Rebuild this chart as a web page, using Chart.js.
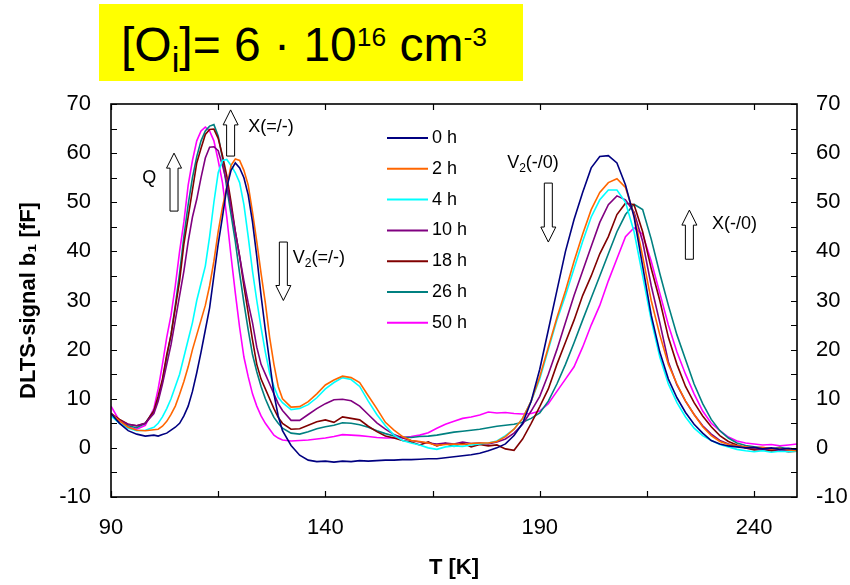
<!DOCTYPE html>
<html>
<head>
<meta charset="utf-8">
<script src="https://cdn.jsdelivr.net/npm/chart.js@4.4.1/dist/chart.umd.min.js"></script>
<style>
  html, body { margin: 0; padding: 0; background: #fff; }
  #wrap { position: relative; width: 850px; height: 585px; }
  #title {
    position: absolute; left: 99px; top: 4px; width: 424px; height: 77px;
    box-sizing: border-box; padding: 7px 0 0 22px;
    background: #ffff00; white-space: nowrap;
    font-family: "Liberation Sans", Arial, sans-serif; font-size: 48px; line-height: 68px;
  }
  #title sub { font-size: 0.72em; position: relative; top: 0.31em; vertical-align: baseline; }
  #title sup { font-size: 0.55em; position: relative; top: -0.55em; vertical-align: baseline; }
</style>
</head>
<body>
<div id="wrap">
  <canvas id="dltsChart" width="850" height="585"></canvas>
  <div id="title">[O<sub>i</sub>]= 6 · 10<sup>16</sup> cm<sup>-3</sup></div>
</div>
<script>
'use strict'

const FONT = "'Liberation Sans', Arial, sans-serif";

// temperature grid [K]
const temps = [90, 92, 94, 96, 98,
  100, 101, 102, 103, 104, 105, 106, 107, 108, 109, 110, 111, 112, 113, 114, 115,
  116, 117, 118, 119, 120, 121, 122, 123, 124, 125, 126, 127, 128, 129, 130,
  132, 134, 136, 138, 140, 142, 144, 146, 148, 150, 152, 154, 156, 158, 160,
  162, 164, 166, 168, 170, 172, 174, 176, 178, 180, 182, 184, 186, 188, 190,
  192, 194, 196, 198, 200, 202, 204, 206, 208, 210, 212, 214, 216, 218, 220,
  222, 224, 226, 228, 230, 232, 234, 236, 238, 240, 242, 244, 246, 248, 250];

// DLTS signal b1 [fF] per annealing time
const h0 = [7, 5, 3.5, 2.8, 2.4,
  2.6, 2.4, 2.7, 3, 3.6, 4.2, 5, 6.5, 8.5, 11.5, 15.3, 19.5, 24, 28.5, 35, 41.5,
  47, 53, 56.5, 58, 57, 55, 51.5, 46, 39, 31, 24, 17.5, 11, 6.5, 3.5,
  0.5, -1.5, -2.5, -2.8, -2.7, -2.9, -2.7, -2.8, -2.6, -2.7, -2.6, -2.5, -2.5, -2.4, -2.4,
  -2.3, -2.2, -2.2, -2.0, -1.8, -1.6, -1.4, -1.1, -0.6, 0, 0.8, 2.5, 5, 9.5, 16,
  24, 32, 40, 46.5, 52, 57, 59.3, 59.5, 58, 53.5, 47, 37, 27, 19.5, 14,
  10.2, 7.2, 4.8, 3, 1.5, 0.8, 0.4, 0.2, 0, 0.1, -0.2, 0, -0.3, -0.1, -0.3];

const h2 = [7, 5.5, 4.2, 3.6, 3.5,
  3.7, 3.8, 4.4, 5.4, 6.8, 8.5, 10.9, 13.5, 16.5, 20, 23, 26, 29, 33, 38, 44,
  49, 53, 57.5, 58.8, 58.5, 56.5, 53.5, 48, 42, 35.5, 29.5, 22.5, 17, 12.5, 10,
  8.3, 8.4, 9.4, 11, 12.8, 13.8, 14.6, 14.3, 13.3, 10.6, 8, 5.2, 3.6, 2.3, 1.5,
  1.3, 1.0, 0.5, 0.7, 0.8, 0.7, 0.9, 1.0, 1.0, 1.3, 2.3, 3.8, 6, 9.5, 14.5,
  20.5, 26.5, 32, 38, 43.5, 48.5, 52, 54, 54.8, 53, 47.5, 39, 30, 23, 17,
  13, 9.5, 6.8, 4.3, 2.5, 1.3, 0.7, 0.4, 0.2, 0, 0.1, -0.2, -0.1, -0.4, -0.6];

const h4 = [6.5, 5, 4, 3.5, 3.6,
  4.2, 5, 6.3, 8, 10, 12.5, 15, 18.5, 22, 25.5, 30, 33.5, 37, 43, 50, 56,
  58.5, 58.7, 57.5, 56, 54, 49.5, 43, 36, 30, 24.5, 19.5, 15.2, 12.5, 10.3, 9.2,
  7.8, 8, 8.8, 10.2, 12, 13.3, 14.3, 13.9, 12.5, 9.5, 6.8, 4.5, 2.6, 1.5, 1.0,
  0.6, 0, -0.3, 0.2, 0.4, 0.3, 0.6, 0.8, 1.0, 1.4, 2.5, 3.8, 6, 9.5, 14,
  20, 26, 31, 36.5, 42, 47, 50.5, 52.5, 52.5, 50, 44, 35, 26, 18.5, 13,
  9.2, 6.3, 4.0, 2.5, 1.5, 0.7, 0.2, -0.3, -0.6, -0.8, -0.6, -0.9, -0.7, -0.8, -0.7];

const h10 = [7, 5.5, 4.8, 4.5, 5,
  7, 9.5, 13, 17, 21, 26, 31, 36, 42, 47, 50.6, 55, 59, 61.2, 61.3, 60.5,
  57.5, 54, 49, 44, 39, 34, 29.5, 25.5, 20.5, 17, 15, 13, 11, 9, 7.6,
  5.6, 5.6, 6.8, 8, 9, 9.8, 9.9, 9.6, 8.5, 6.8, 5.1, 3.8, 2.7, 2.0, 1.5,
  1.2, 1.0, 0.8, 1.0, 0.8, 1.2, 0.9, 1.0, 0.8, 1.2, 1.8, 3, 4.8, 7.5, 10.5,
  15, 20, 25.5, 31, 36, 41, 45.9, 49.5, 51.3, 50.5, 48, 42, 33, 25.5, 17.5,
  12.8, 9.5, 6.8, 4.5, 2.8, 1.5, 0.8, 0.4, 0.1, -0.1, -0.3, -0.2, -0.5, -0.4, -0.6];

const h18 = [7, 5.8, 4.8, 4.5, 5,
  7.5, 10.5, 14, 19, 23, 28.5, 34, 41.5, 47, 52.5, 58, 61, 63.8, 64.8, 64.9, 63,
  59.5, 55.4, 50, 44, 39, 33, 27.5, 22, 17, 14, 12, 10, 8, 6.2, 5,
  3.8, 3.9, 4.6, 5.3, 5.7, 5.2, 6.3, 6.0, 5.7, 4.4, 3.3, 2.4, 2.0, 1.5, 1.2,
  0.6, 1.2, 0.4, 0.9, 0.3, 1.0, 0.2, 0.7, 0.4, 0.6, -0.2, -0.5, 1.8, 5, 8.4,
  12, 17, 21.5, 26, 31, 35, 39.5, 43, 47.5, 49.8, 49.5, 44, 36.5, 30, 22.5,
  17, 12.5, 9.2, 6.5, 4.3, 2.5, 1.3, 0.6, 0, -0.4, -0.3, -0.6, -0.5, -0.8, -0.7];

const h26 = [7, 5.5, 4.5, 4.1, 5,
  7.5, 10, 13.5, 18.5, 23, 29, 35.5, 43, 49.5, 55, 59.3, 62.5, 64.5, 65.5, 65.8, 63.5,
  59, 53, 47.5, 42, 35.5, 29.5, 24, 19, 15.5, 12.5, 10, 8, 6.2, 5, 4,
  3, 2.8, 3.3, 3.9, 4.3, 4.6, 5.1, 5.0, 4.7, 4.2, 3.5, 2.9, 2.4, 2.2, 2.1,
  2.3, 2.4, 2.6, 2.9, 3.2, 3.4, 3.6, 3.8, 4.1, 4.4, 4.6, 4.8, 5.2, 6.0, 7.1,
  9.5, 13, 17, 21.4, 26, 30.5, 35, 39.5, 44, 47.5, 49.6, 48.5, 42.5, 35.5, 29,
  23, 18, 13, 9, 5.8, 3.5, 2, 1, 0.5, 0.2, 0, -0.2, 0.1, -0.2, -0.4];

const h50 = [8.5, 5.5, 4.2, 3.8, 4.6,
  8, 12, 17, 22.5, 27, 33, 40, 46, 53.5, 58.5, 62.5, 64.5, 65.3, 64.5, 62.5, 58.5,
  54, 47, 39, 31.5, 24.5, 18.5, 14.5, 11, 8.5, 6.5, 5, 3.8, 2.6, 2.0, 1.6,
  1.4, 1.5, 1.6, 1.8, 2.0, 2.3, 2.7, 2.6, 2.5, 2.3, 2.1, 2.0, 2.0, 2.1, 2.3,
  2.6, 3.1, 4.0, 4.8, 5.4, 6.0, 6.3, 6.7, 7.3, 7.1, 7.2, 7.0, 6.9, 7.0, 7.5,
  9, 11.5, 14, 16.5, 20.5, 25, 29, 34, 38.5, 43, 44.8, 43.5, 38, 31.5, 25,
  19.5, 15, 11, 7.5, 5, 3.5, 2.2, 1.4, 1, 0.8, 0.6, 0.7, 0.4, 0.6, 0.8];

const seriesLabels = ['0 h', '2 h', '4 h', '10 h', '18 h', '26 h', '50 h'];
const seriesValues = [h0, h2, h4, h10, h18, h26, h50];
const seriesColors = ['#000080', '#ff6600', '#00ffff', '#800080', '#800000', '#008080', '#ff00ff'];

const xTickLabels = [90, 140, 190, 240];
const yTickLabels = [-10, 0, 10, 20, 30, 40, 50, 60, 70];

// text notes with their arrows, placed in data units (T, signal)
const notes = [
  { parts: [['Q', 0]], t: 97.3, v: 54.9 },
  { parts: [['X(=/-)', 0]], t: 122, v: 65.3 },
  { parts: [['V', 0], ['2', 1], ['(=/-)', 0]], t: 132.4, v: 38.6 },
  { parts: [['V', 0], ['2', 1], ['(-/0)', 0]], t: 182.4, v: 58 },
  { parts: [['X(-/0)', 0]], t: 230.2, v: 45.5 }
];
const arrows = [
  { t: 104.7, from: 48.2, to: 60 },
  { t: 117.9, from: 59.4, to: 68.8 },
  { t: 130.2, from: 41.9, to: 30 },
  { t: 192, from: 53.9, to: 41.9 },
  { t: 224.9, from: 38.4, to: 48.4 }
];

function drawRich(ctx, parts, x, y, size){
  let cx = x;
  parts.forEach(function(p){
    const sub = p[1] === 1;
    ctx.font = (sub ? Math.round(size * 0.65) : size) + 'px ' + FONT;
    ctx.fillText(p[0], cx, sub ? y + size * 0.3 : y);
    cx += ctx.measureText(p[0]).width;
  });
}

function blockArrow(ctx, cx, yBase, yTip){
  const shaftW = 8, headW = 15, headH = 15;
  const dir = yTip < yBase ? 1 : -1;
  const yNeck = yTip + dir * headH;
  ctx.beginPath();
  ctx.moveTo(cx - shaftW / 2, yBase);
  ctx.lineTo(cx - shaftW / 2, yNeck);
  ctx.lineTo(cx - headW / 2, yNeck);
  ctx.lineTo(cx, yTip);
  ctx.lineTo(cx + headW / 2, yNeck);
  ctx.lineTo(cx + shaftW / 2, yNeck);
  ctx.lineTo(cx + shaftW / 2, yBase);
  ctx.closePath();
  ctx.fillStyle = '#fff';
  ctx.fill();
  ctx.strokeStyle = '#000';
  ctx.lineWidth = 1;
  ctx.stroke();
}

//frame with inward ticks on all four sides
const frameTicks = {
  id: 'frameTicks',
  afterDatasetsDraw(chart){
    const ctx = chart.ctx, a = chart.chartArea;
    const x = chart.scales.x, y = chart.scales.y;
    ctx.save();
    ctx.strokeStyle = '#000';
    ctx.lineWidth = 1.2;
    ctx.beginPath();
    for (let v = -10; v <= 70; v += 5) {
      const py = Math.round(y.getPixelForValue(v)) + 0.5;
      ctx.moveTo(a.left, py); ctx.lineTo(a.left + 6, py);
      ctx.moveTo(a.right, py); ctx.lineTo(a.right - 6, py);
    }
    for (let t = 90; t < 250; t += 25) {
      const px = Math.round(x.getPixelForValue(t)) + 0.5;
      ctx.moveTo(px, a.bottom); ctx.lineTo(px, a.bottom - 6);
      ctx.moveTo(px, a.top); ctx.lineTo(px, a.top + 6);
    }
    ctx.stroke();
    ctx.lineWidth = 1.6;
    ctx.strokeRect(a.left, a.top, a.right - a.left, a.bottom - a.top);
    ctx.restore();
  }
};

//legend inside the plot + arrows and labels
const notesLegend = {
  id: 'notesLegend',
  afterDraw(chart){
    const ctx = chart.ctx, a = chart.chartArea;
    const x = chart.scales.x, y = chart.scales.y;
    ctx.save();
    ctx.textBaseline = 'middle';
    ctx.fillStyle = '#000';
    chart.data.datasets.forEach(function(ds, i){
      const yy = a.top + 34 + i * 30.8;
      const x0 = a.left + 276;
      ctx.strokeStyle = ds.borderColor;
      ctx.lineWidth = 2;
      ctx.beginPath(); ctx.moveTo(x0, yy); ctx.lineTo(x0 + 41, yy); ctx.stroke();
      ctx.font = '18px ' + FONT;
      ctx.fillText(ds.label, x0 + 45, yy);
    });
    arrows.forEach(function(ar){
      blockArrow(ctx, x.getPixelForValue(ar.t), y.getPixelForValue(ar.from), y.getPixelForValue(ar.to));
    });
    ctx.fillStyle = '#000';
    notes.forEach(function(n){
      drawRich(ctx, n.parts, x.getPixelForValue(n.t), y.getPixelForValue(n.v), 18);
    });
    ctx.restore();
  }
};

const datasets = seriesValues.map(function(vals, i){
  return {
    label: seriesLabels[i],
    data: temps.map(function(t, j){ return { x: t, y: vals[j] }; }),
    borderColor: seriesColors[i],
    backgroundColor: seriesColors[i],
    borderWidth: 1.6,
    pointRadius: 0,
    fill: false,
    tension: 0
  };
});

const tickFont = { family: FONT, size: 22 };

const ctx = document.getElementById('dltsChart').getContext('2d');
const dltsChart = new Chart(ctx, {
  type: 'line',
  data: { datasets: datasets },
  options: {
    responsive: false,
    animation: false,
    layout: { padding: { top: 104, left: 0, right: 0, bottom: 0 } },
    plugins: { legend: { display: false }, tooltip: { enabled: false } },
    scales: {
      x: {
        type: 'linear', position: 'bottom', min: 90, max: 250,
        afterBuildTicks: function(s){ s.ticks = xTickLabels.map(function(v){ return { value: v }; }); },
        afterFit: function(s){ s.height = 88; },
        grid: { display: false, drawTicks: false },
        border: { display: false },
        ticks: { font: tickFont, color: '#000', padding: 18, maxRotation: 0, autoSkip: false },
        title: { display: true, text: 'T [K]', color: '#000',
          font: { family: FONT, size: 22, weight: 'bold' }, padding: { top: 0, bottom: 4 } }
      },
      y: {
        position: 'left', min: -10, max: 70,
        afterBuildTicks: function(s){ s.ticks = yTickLabels.map(function(v){ return { value: v }; }); },
        afterFit: function(s){ s.width = 111; },
        grid: { display: false, drawTicks: false },
        border: { display: false },
        ticks: { font: tickFont, color: '#000', padding: 20 },
        title: { display: true, text: 'DLTS-signal b\u2081 [fF]', color: '#000',
          font: { family: FONT, size: 22, weight: 'bold' }, padding: { top: 16, bottom: 0 } }
      },
      y2: {
        position: 'right', min: -10, max: 70,
        afterBuildTicks: function(s){ s.ticks = yTickLabels.map(function(v){ return { value: v }; }); },
        afterFit: function(s){ s.width = 53; },
        grid: { display: false, drawTicks: false },
        border: { display: false },
        ticks: { font: tickFont, color: '#000', padding: 19 }
      }
    }
  },
  plugins: [frameTicks, notesLegend]
});
</script>
</body>
</html>
